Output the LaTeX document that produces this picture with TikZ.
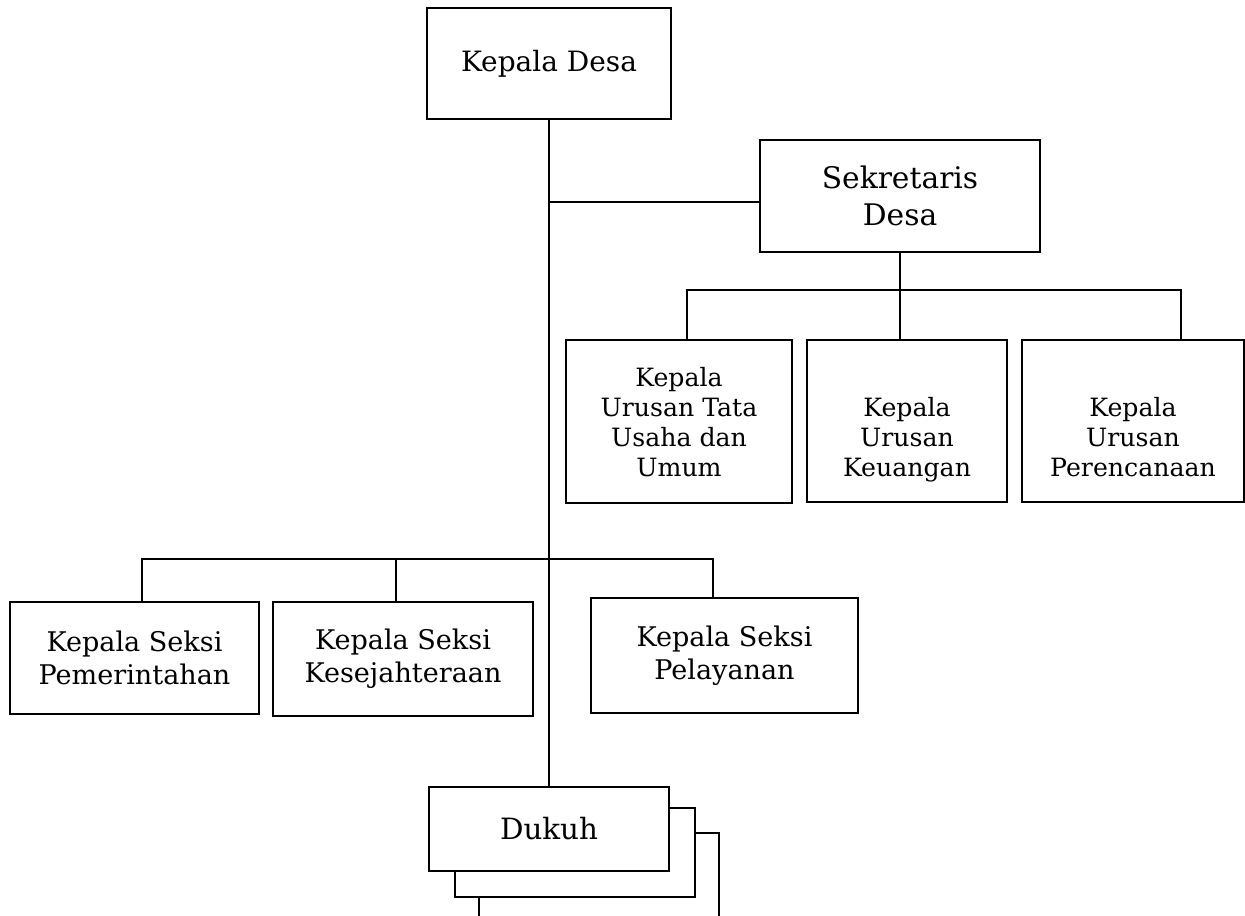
\documentclass[tikz,border=0pt]{standalone}
\usepackage{fontspec}
\setmainfont{DejaVu Serif}
\usepackage{tikz}
\usetikzlibrary{positioning, calc}

\begin{document}
\begin{tikzpicture}[
  x=0.75pt, y=0.75pt,
  obox/.style={draw, line width=1.2pt, fill=white, inner sep=0pt, align=center},
  topfont/.style={font=\fontsize{21}{25}\selectfont},
  dukfont/.style={font=\fontsize{22}{26}\selectfont},
  sekfont/.style={font=\fontsize{22.3}{27.75}\selectfont},
  urfont/.style={font=\fontsize{18.9}{22.5}\selectfont, text depth=0pt},
  sifont/.style={font=\fontsize{20.3}{24.75}\selectfont},
  link/.style={line width=1.2pt}
]
  \useasboundingbox (0,0) rectangle (1245,-916);
  \clip (0,0) rectangle (1245,-916);

  \node[obox, topfont, minimum width=183pt, minimum height=83.25pt] (kades) at (549,-63.5) {Kepala Desa};
  \node[obox, sekfont, minimum width=210pt, minimum height=84pt] (sekdes) at (900,-196) {Sekretaris\\Desa};

  \node[obox, urfont, minimum width=169.5pt, minimum height=122.25pt] (urtu) at (679,-421.5) {Kepala\\Urusan Tata\\Usaha dan\\Umum};
  \node[obox, urfont, minimum width=150pt, minimum height=121.5pt] (urkeu) at (907,-421) {\strut\\Kepala\\Urusan\\Keuangan};
  \node[obox, urfont, minimum width=166.5pt, minimum height=121.5pt] (urren) at (1133,-421) {\strut\\Kepala\\Urusan\\Perencanaan};

  \node[obox, sifont, minimum width=186.75pt, minimum height=84pt] (kspem) at (134.5,-658) {Kepala Seksi\\Pemerintahan};
  \node[obox, sifont, minimum width=195pt, minimum height=85.5pt] (kskes) at (403,-659) {Kepala Seksi\\Kesejahteraan};
  \node[obox, sifont, minimum width=200.25pt, minimum height=86.25pt] (kspel) at (724.5,-655.5) {Kepala Seksi\\Pelayanan};

  \node[obox, minimum width=180pt, minimum height=66.75pt] (dukuh3) at (599,-877.5) {};
  \node[obox, minimum width=180pt, minimum height=66.75pt] (dukuh2) at (575,-852.5) {};
  \node[obox, dukfont, minimum width=180pt, minimum height=63pt] (dukuh) at (549,-829) {Dukuh};

  \coordinate (jsek) at (549,-202);
  \coordinate (jur) at (900,-290);
  \coordinate (jsi) at (549,-559);
  \coordinate (dtu) at (687,0);
  \coordinate (dren) at (1181,0);
  \coordinate (dpem) at (142,0);
  \coordinate (dkes) at (396,0);
  \coordinate (dpel) at (713,0);

  \draw[link] (kades.south) -- (dukuh.north);
  \draw[link] (jsek) -- (jsek -| sekdes.west);
  \draw[link] (sekdes.south) -- (sekdes.south |- urkeu.north);
  \draw[link] (urtu.north -| dtu) |- (jur) -| (urren.north -| dren);
  \draw[link] (kspem.north -| dpem) |- (jsi) -| (kspel.north -| dpel);
  \draw[link] (kskes.north -| dkes) -- (jsi -| dkes);
\end{tikzpicture}
\end{document}
